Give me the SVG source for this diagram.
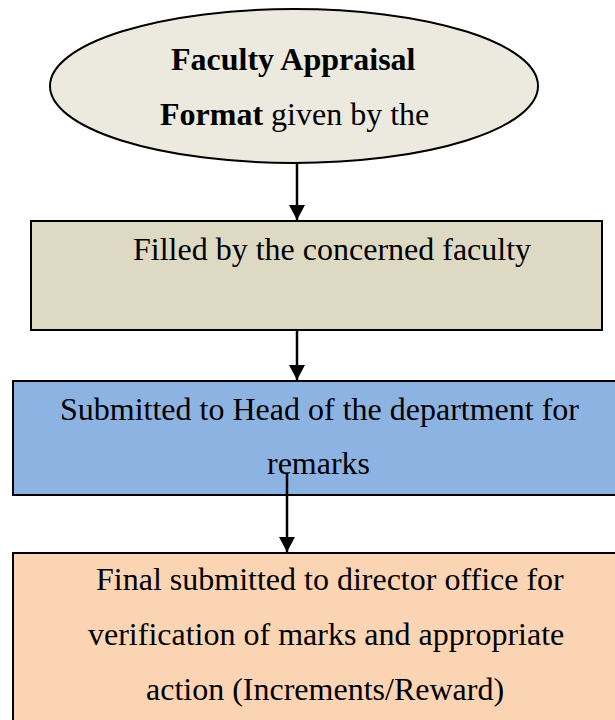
<svg xmlns="http://www.w3.org/2000/svg" width="615" height="720" viewBox="0 0 615 720">
  <style>
    .shape { stroke: #000; stroke-width: 2; }
    .lbl { font-family: "Liberation Serif", "Times New Roman", serif; font-size: 32px; fill: #000; }
    .b { font-weight: bold; }
    .conn { stroke: #000; stroke-width: 2.5; fill: none; }
  </style>
  <defs>
    <marker id="arrow" markerUnits="userSpaceOnUse" markerWidth="16" markerHeight="16" refX="15" refY="8" orient="auto">
      <path d="M0,0 L15,8 L0,16 Z" fill="#000"/>
    </marker>
  </defs>
  <rect width="615" height="720" fill="#fff"/>

  <g id="start">
    <ellipse class="shape" cx="294" cy="86" rx="244" ry="77" fill="#ECEADF"/>
    <text class="lbl b" x="171" y="70">Faculty Appraisal</text>
    <text class="lbl" x="160" y="125"><tspan class="b">Format</tspan> given by the</text>
  </g>

  <g id="filled">
    <rect class="shape" x="31" y="221" width="571" height="109" fill="#DDD9C3"/>
    <text class="lbl" x="133" y="260">Filled by the concerned faculty</text>
  </g>

  <g id="hod">
    <rect class="shape" x="13" y="381" width="603" height="114" fill="#8DB3E2"/>
    <text class="lbl" x="60" y="420">Submitted to Head of the department for</text>
    <text class="lbl" x="267" y="474">remarks</text>
  </g>

  <g id="director">
    <rect class="shape" x="13" y="553" width="603" height="180" fill="#FBD4B4"/>
    <text class="lbl" x="96" y="590">Final submitted to director office for</text>
    <text class="lbl" x="88" y="645">verification of marks and appropriate</text>
    <text class="lbl" x="146" y="700">action (Increments/Reward)</text>
  </g>

  <g id="connectors">
    <line class="conn" x1="297" y1="163" x2="297" y2="220" marker-end="url(#arrow)"/>
    <line class="conn" x1="297" y1="331" x2="297" y2="380" marker-end="url(#arrow)"/>
    <line class="conn" x1="287" y1="473" x2="287" y2="552" marker-end="url(#arrow)"/>
  </g>
</svg>
